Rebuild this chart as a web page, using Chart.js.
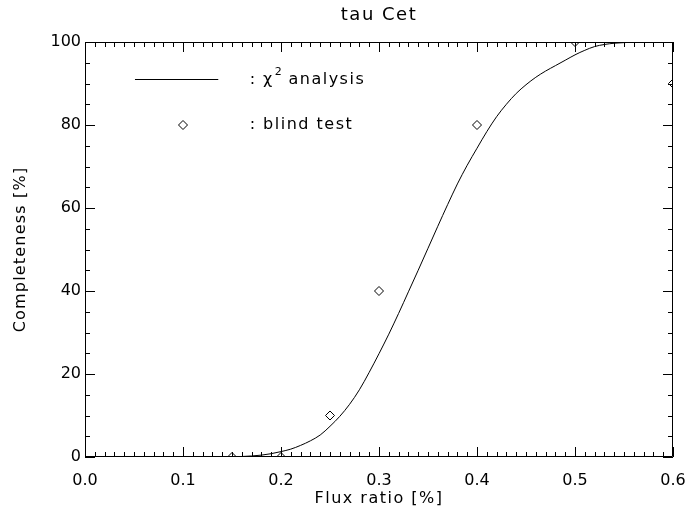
<!DOCTYPE html>
<html>
<head>
<meta charset="utf-8">
<script src="https://cdn.jsdelivr.net/npm/chart.js@4.4.1/dist/chart.umd.min.js"></script>
<style>
  html, body { margin: 0; padding: 0; background: #fff; }
  #wrap { width: 689px; height: 510px; }
</style>
</head>
<body>
<div id="wrap"><canvas id="c" width="689" height="510"></canvas></div>
<script>
// ---- data ----
const titleText = 'tau Cet';
const xAxisTitle = 'Flux ratio [%]';
const yAxisTitle = 'Completeness [%]';
const xTickValues = [0.0, 0.1, 0.2, 0.3, 0.4, 0.5, 0.6];
const yTickValues = [0, 20, 40, 60, 80, 100];

// chi^2 analysis curve
const curveX = [0.13, 0.14, 0.15, 0.16, 0.17, 0.18, 0.19, 0.20, 0.21, 0.22, 0.23, 0.24,
                0.25, 0.26, 0.27, 0.28, 0.29, 0.30, 0.31, 0.32, 0.33, 0.34, 0.35, 0.36,
                0.37, 0.38, 0.39, 0.40, 0.41, 0.42, 0.43, 0.44, 0.45, 0.46, 0.47, 0.48,
                0.49, 0.50, 0.51, 0.52, 0.53, 0.54, 0.55, 0.56, 0.57, 0.58, 0.59, 0.60];
const curveY = [0, 0.02, 0.05, 0.12, 0.25, 0.45, 0.8, 1.3, 1.9, 2.8, 3.9, 5.3,
                7.4, 9.8, 12.7, 16.2, 20.4, 24.9, 29.6, 34.6, 39.8, 45.0, 50.3, 55.6,
                60.8, 65.8, 70.3, 74.4, 78.4, 82.0, 85.0, 87.6, 89.7, 91.5, 93.0, 94.3,
                95.6, 96.9, 98.0, 98.9, 99.4, 99.7, 99.85, 99.95, 100, 100, 100, 100];

// blind test points
const blindX = [0.15, 0.20, 0.25, 0.30, 0.40, 0.50, 0.60];
const blindY = [0, 0, 10, 40, 80, 100, 90];

const legendLine = ': \u03C7';
const legendSup = '2';
const legendLineRest = ' analysis';
const legendPoint = ': blind test';

// ---- chart ----
const FONT = "'DejaVu Sans', sans-serif";

function spacedText(ctx, text, x, y, spacing) {
  ctx.letterSpacing = spacing + 'px';
  ctx.fillText(text, x, y);
  const w = ctx.measureText(text).width;
  ctx.letterSpacing = '0px';
  return w;
}

const frameAndTicks = {
  id: 'frameAndTicks',
  afterDatasetsDraw(chart) {
    const { ctx, chartArea: a, scales: { x, y } } = chart;
    ctx.save();
    ctx.strokeStyle = '#000';
    ctx.lineWidth = 1;
    ctx.beginPath();
    ctx.rect(Math.round(a.left) + 0.5, Math.round(a.top) + 0.5,
             Math.round(a.right - a.left) - 1, Math.round(a.bottom - a.top) - 1);
    ctx.stroke();

    const majL = 10, minL = 5;
    ctx.beginPath();
    // x ticks: major every 0.1, minor every 0.01
    for (let i = 0; i <= 60; i++) {
      const v = i / 100;
      const px = Math.round(x.getPixelForValue(v)) + 0.5;
      const len = (i % 10 === 0) ? majL : minL;
      ctx.moveTo(px, a.bottom); ctx.lineTo(px, a.bottom - len);
      ctx.moveTo(px, a.top); ctx.lineTo(px, a.top + len);
    }
    // y ticks: major every 20, minor every 5
    for (let i = 0; i <= 20; i++) {
      const v = i * 5;
      const py = Math.round(y.getPixelForValue(v)) + 0.5;
      const len = (i % 4 === 0) ? majL : minL;
      ctx.moveTo(a.left, py); ctx.lineTo(a.left + len, py);
      ctx.moveTo(a.right, py); ctx.lineTo(a.right - len, py);
    }
    ctx.stroke();

    ctx.fillStyle = '#000';
    ctx.textBaseline = 'middle';

    // title
    ctx.font = '18px ' + FONT;
    ctx.textAlign = 'center';
    spacedText(ctx, titleText, (a.left + a.right) / 2, 15, 1.5);

    // x axis title
    ctx.font = '16px ' + FONT;
    spacedText(ctx, xAxisTitle, (a.left + a.right) / 2, 499, 1.5);

    // y axis title
    ctx.save();
    ctx.translate(21, (a.top + a.bottom) / 2);
    ctx.rotate(-Math.PI / 2);
    spacedText(ctx, yAxisTitle, 0, 0, 1.2);
    ctx.restore();

    // legend
    ctx.textAlign = 'left';
    const lx0 = x.getPixelForValue(0.051), lx1 = x.getPixelForValue(0.136);
    const ly1 = y.getPixelForValue(91);
    ctx.beginPath();
    ctx.moveTo(lx0, Math.round(ly1) + 0.5);
    ctx.lineTo(lx1, Math.round(ly1) + 0.5);
    ctx.stroke();
    ctx.font = '16px ' + FONT;
    const tx = x.getPixelForValue(0.168);
    const w = spacedText(ctx, legendLine, tx, ly1, 1.5);
    ctx.font = '11px ' + FONT;
    const w2 = spacedText(ctx, legendSup, tx + w + 1, ly1 - 7, 0);
    ctx.font = '16px ' + FONT;
    spacedText(ctx, legendLineRest, tx + w + w2 + 1, ly1, 1.5);

    const ly2 = y.getPixelForValue(80);
    const dx = x.getPixelForValue(0.1);
    ctx.beginPath();
    ctx.moveTo(dx, ly2 - 4.5); ctx.lineTo(dx + 4.5, ly2);
    ctx.lineTo(dx, ly2 + 4.5); ctx.lineTo(dx - 4.5, ly2); ctx.closePath();
    ctx.stroke();
    spacedText(ctx, legendPoint, tx, ly2, 1.5);
    ctx.restore();
  }
};

new Chart(document.getElementById('c'), {
  type: 'scatter',
  data: {
    datasets: [
      {
        label: 'chi2 analysis',
        data: curveX.map((v, i) => ({ x: v, y: curveY[i] })),
        showLine: true,
        borderColor: '#000',
        borderWidth: 1,
        pointRadius: 0,
        cubicInterpolationMode: 'monotone',
        clip: 0
      },
      {
        label: 'blind test',
        data: blindX.map((v, i) => ({ x: v, y: blindY[i] })),
        showLine: false,
        pointStyle: 'rectRot',
        pointRadius: 4.5,
        pointBackgroundColor: 'rgba(0,0,0,0)',
        pointBorderColor: '#000',
        pointBorderWidth: 1,
        clip: 0
      }
    ]
  },
  options: {
    responsive: false,
    animation: false,
    layout: { padding: { top: 42, right: 16, left: 0, bottom: 0 } },
    plugins: { legend: { display: false }, tooltip: { enabled: false }, title: { display: false } },
    scales: {
      x: {
        type: 'linear', min: 0, max: 0.6,
        afterBuildTicks: s => { s.ticks = xTickValues.map(v => ({ value: v })); },
        afterFit: s => { s.height = 53; s.paddingLeft = 0; s.paddingRight = 0; },
        border: { display: false },
        grid: { display: false, drawTicks: false },
        ticks: { color: '#000', font: { family: FONT, size: 16 }, padding: 14,
                 maxRotation: 0, autoSkip: false,
                 callback: v => Number(v).toFixed(1) },
        title: { display: false }
      },
      y: {
        type: 'linear', min: 0, max: 100,
        afterBuildTicks: s => { s.ticks = yTickValues.map(v => ({ value: v })); },
        afterFit: s => { s.width = 85; s.paddingTop = 0; s.paddingBottom = 0; },
        border: { display: false },
        grid: { display: false, drawTicks: false },
        ticks: { color: '#000', font: { family: FONT, size: 16 }, padding: 4,
                 autoSkip: false, callback: v => String(v) },
        title: { display: false }
      }
    }
  },
  plugins: [frameAndTicks]
});
</script>
</body>
</html>
